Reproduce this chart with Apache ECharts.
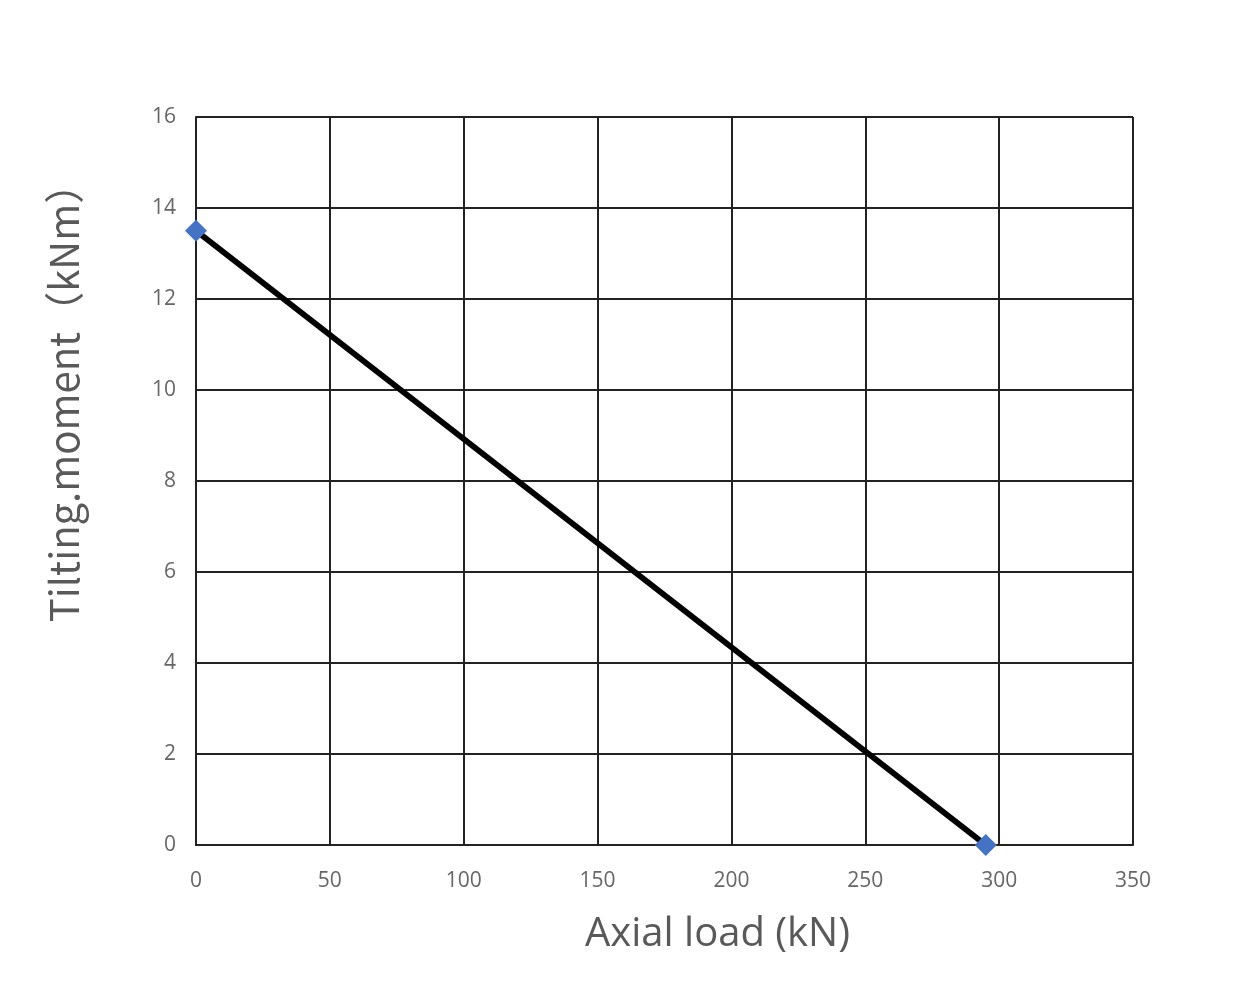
<!DOCTYPE html>
<html><head><meta charset="utf-8">
<script src="https://cdn.jsdelivr.net/npm/echarts@6/dist/echarts.min.js"></script>
<style>html,body{margin:0;background:#fff}#c{width:1260px;height:990px}</style>
</head><body><div id="c"></div>
<script>
// 数据
const axialLoad = [0, 295];
const tiltingMoment = [13.5, 0];
const xTitle = 'Axial load (kN)';
const yTitle = 'Tilting.moment（kNm）';

const chart = echarts.init(document.getElementById('c'));
chart.setOption({
    backgroundColor: '#fff',
    animation: false,
    grid: { left: 196, right: 127, top: 117, bottom: 145 },
    xAxis: {
        type: 'value', min: 0, max: 350, interval: 50,
        name: xTitle, nameLocation: 'middle', nameGap: 70,
        nameTextStyle: { fontSize: 40, color: '#595959', fontFamily: 'Open Sans', padding: [0, 0, 0, 106] },
        axisLine: { show: true, lineStyle: { color: '#222', width: 2 } },
        axisTick: { show: false },
        axisLabel: { fontSize: 21, color: '#666', margin: 26, fontFamily: 'Open Sans' },
        splitLine: { lineStyle: { color: '#222', width: 2 } }
    },
    yAxis: {
        type: 'value', min: 0, max: 16, interval: 2,
        name: yTitle, nameLocation: 'middle', nameGap: 112,
        nameTextStyle: { fontSize: 40, color: '#595959', fontFamily: 'Noto Sans CJK SC', padding: [0, 0, 0, 176] },
        axisLine: { show: true, lineStyle: { color: '#222', width: 2 } },
        axisTick: { show: false },
        axisLabel: { fontSize: 21, color: '#666', margin: 20, fontFamily: 'Open Sans' },
        splitLine: { lineStyle: { color: '#222', width: 2 } }
    },
    series: [{
        type: 'line',
        data: axialLoad.map((x, i) => [x, tiltingMoment[i]]),
        symbol: 'diamond', symbolSize: 22,
        itemStyle: { color: '#4472C4' },
        lineStyle: { color: '#000', width: 6 },
        z: 5
    }]
});
</script></body></html>
